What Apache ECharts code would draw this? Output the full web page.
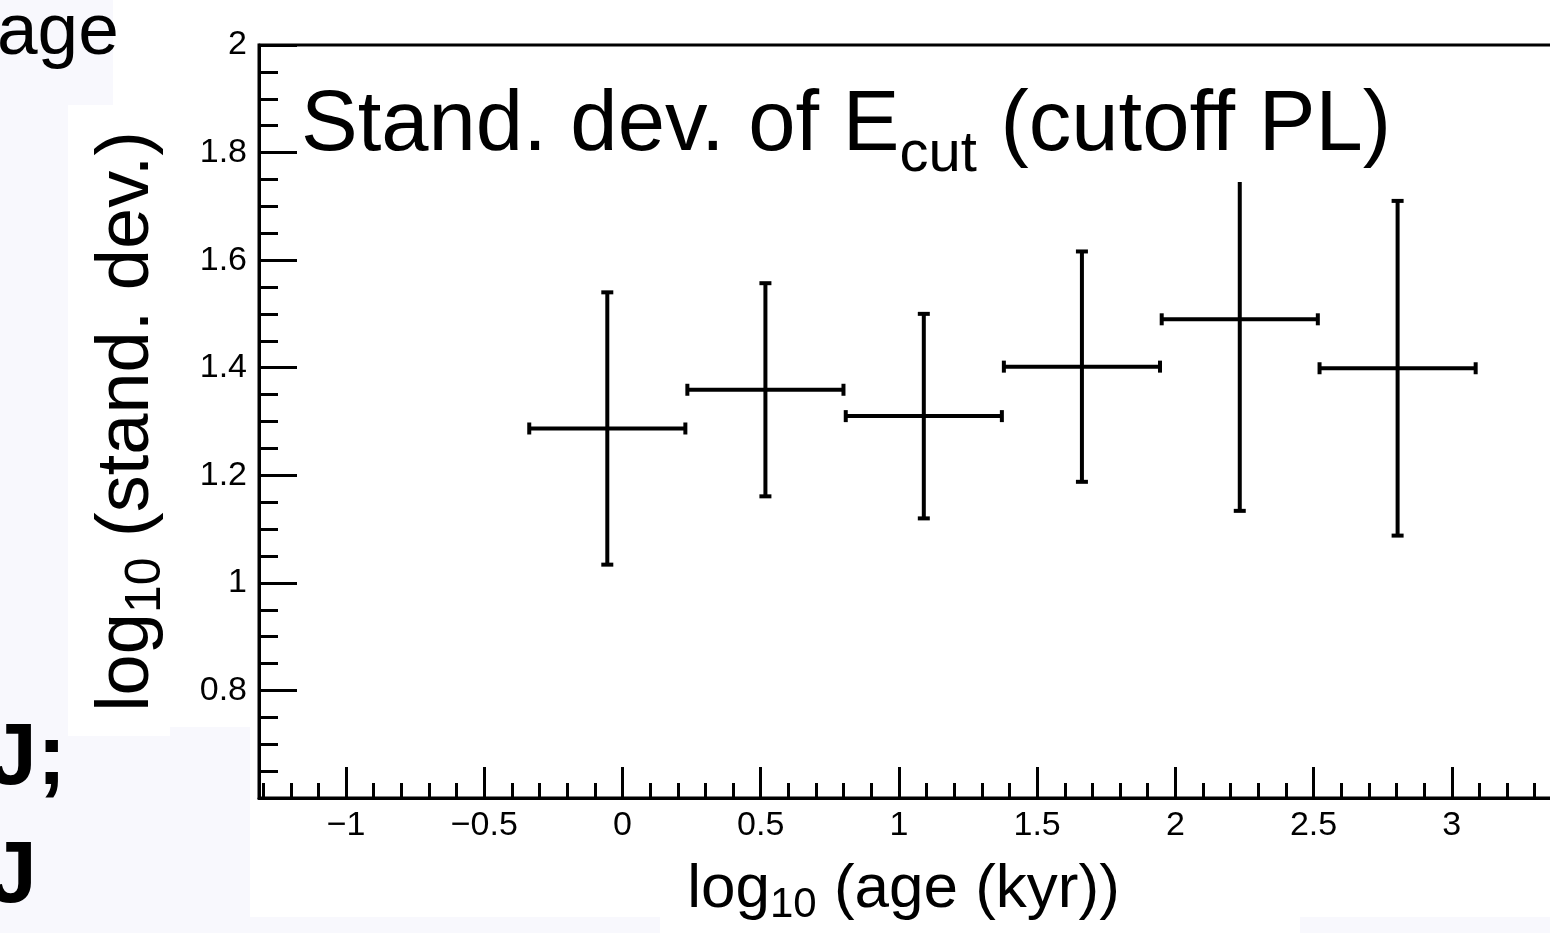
<!DOCTYPE html>
<html><head><meta charset="utf-8">
<script src="https://cdn.jsdelivr.net/npm/echarts@6/dist/echarts.min.js"></script>
<style>html,body{margin:0;padding:0;background:#fff}#c{width:1550px;height:933px}</style>
</head><body><div id="c"></div>
<script>
// ---- data ----
const binCenters    = [-0.055, 0.517, 1.090, 1.662, 2.233, 2.804];
const binHalfWidths = [0.286, 0.286, 0.286, 0.286, 0.286, 0.286];
const stdDevValues  = [1.287, 1.359, 1.310, 1.402, 1.490, 1.399];
const stdDevErrors  = [0.255, 0.200, 0.192, 0.216, 0.358, 0.313];
const xMajorTicks   = [-1, -0.5, 0, 0.5, 1, 1.5, 2, 2.5, 3, 3.5];
const xTickLabels   = [-1, -0.5, 0, 0.5, 1, 1.5, 2, 2.5, 3];
const xMinorTicks   = [-1.3,-1.2,-1.1,-0.9,-0.8,-0.7,-0.6,-0.4,-0.3,-0.2,-0.1,
                       0.1,0.2,0.3,0.4,0.6,0.7,0.8,0.9,1.1,1.2,1.3,1.4,1.6,1.7,1.8,1.9,
                       2.1,2.2,2.3,2.4,2.6,2.7,2.8,2.9,3.1,3.2,3.3,3.4];
const titleText  = 'Stand. dev. of E{sub|cut} (cutoff PL)';
const xTitleText = 'log{sub|10} (age (kyr))';
const yTitleText = 'log{sub|10} (stand. dev.)';

const FONT = "'Liberation Sans', Arial, Helvetica, sans-serif";
const seriesData = binCenters.map((x, i) => [x, stdDevValues[i], binHalfWidths[i], stdDevErrors[i]]);

const chart = echarts.init(document.getElementById('c'));
const LAV = '#f8f8fd';
chart.setOption({
  backgroundColor: '#fff',
  animation: false,
  grid: { left: 259, right: -40, top: 45, bottom: 135, show: true, borderColor: '#000', borderWidth: 3,
          outerBoundsMode: 'none', containLabel: false },
  title: {
    text: titleText, left: 301, top: 70, padding: 0,
    textStyle: { fontFamily: FONT, fontSize: 85, fontWeight: 'normal', color: '#000',
      rich: { sub: { fontFamily: FONT, fontSize: 58, color: '#000', padding: [56, 0, 0, 0] } } }
  },
  xAxis: [{
    type: 'value', min: -1.315, max: 3.5, position: 'bottom',
    name: xTitleText, nameLocation: 'middle', nameGap: 56,
    nameTextStyle: { fontFamily: FONT, fontSize: 62, color: '#000', padding: [0, 42, 0, 0],
      rich: { sub: { fontFamily: FONT, fontSize: 42, color: '#000', padding: [30, 0, 0, 0] } } },
    axisLine: { show: true, onZero: false, lineStyle: { color: '#000', width: 3 } },
    axisTick: { show: true, inside: true, length: 31, customValues: xMajorTicks, lineStyle: { color: '#000', width: 3 } },
    axisLabel: { show: true, customValues: xTickLabels, margin: 11, fontFamily: FONT, fontSize: 34, color: '#000',
      formatter: v => String(v).replace('-', '\u2212') },
    splitLine: { show: false }
  }, {
    type: 'value', min: -1.315, max: 3.5, position: 'bottom', gridIndex: 0,
    axisLine: { show: false, onZero: false },
    axisTick: { show: true, inside: true, length: 15, customValues: xMinorTicks, lineStyle: { color: '#000', width: 3 } },
    axisLabel: { show: false },
    splitLine: { show: false }
  }],
  yAxis: {
    type: 'value', min: 0.6, max: 2, interval: 0.2,
    name: yTitleText, nameLocation: 'middle', nameRotate: 90, nameGap: 88,
    nameTextStyle: { fontFamily: FONT, fontSize: 74, color: '#000',
      rich: { sub: { fontFamily: FONT, fontSize: 50, color: '#000', padding: [36, 0, 0, 0] } } },
    axisLine: { show: true, onZero: false, lineStyle: { color: '#000', width: 3 } },
    axisTick: { show: true, inside: true, length: 38, lineStyle: { color: '#000', width: 3 } },
    minorTick: { show: true, splitNumber: 4, length: 19, lineStyle: { color: '#000', width: 3 } },
    axisLabel: { show: true, margin: 12, fontFamily: FONT, fontSize: 34, color: '#000',
      formatter: v => (Math.abs(v - 0.6) < 1e-6 ? '' : String(+v.toFixed(2))) },
    splitLine: { show: false }, minorSplitLine: { show: false }
  },
  graphic: [
    { type: 'rect', z: -10, silent: true, shape: { x: 0, y: 0, width: 113, height: 105 }, style: { fill: LAV } },
    { type: 'rect', z: -10, silent: true, shape: { x: 0, y: 105, width: 68, height: 622 }, style: { fill: LAV } },
    { type: 'rect', z: -10, silent: true, shape: { x: 0, y: 727, width: 250, height: 206 }, style: { fill: LAV } },
    { type: 'rect', z: -10, silent: true, shape: { x: 250, y: 917, width: 410, height: 16 }, style: { fill: LAV } },
    { type: 'rect', z: -10, silent: true, shape: { x: 1300, y: 917, width: 250, height: 16 }, style: { fill: LAV } },
    { type: 'rect', z: -9, silent: true, shape: { x: 68, y: 150, width: 102, height: 586 }, style: { fill: '#fff' } },
    { type: 'text', z: -5, silent: true, x: -3, y: -3, style: { text: 'age', font: "normal 73px 'Liberation Sans', Arial, sans-serif", fill: '#000' } },
    { type: 'text', z: -5, silent: true, x: -12, y: 716, style: { text: 'J;', font: "bold 88px 'Liberation Sans', Arial, sans-serif", fill: '#000' } },
    { type: 'text', z: -5, silent: true, x: -12, y: 834, style: { text: 'J', font: "bold 88px 'Liberation Sans', Arial, sans-serif", fill: '#000' } },
    { type: 'rect', z: 5, silent: true, shape: { x: 300, y: 55, width: 1096, height: 127 }, style: { fill: '#fff' } }
  ],
  series: [{
    type: 'custom', xAxisIndex: 0, yAxisIndex: 0, clip: false,
    data: seriesData,
    encode: { x: 0, y: 1 },
    renderItem: function (params, api) {
      const x = api.value(0), y = api.value(1), hw = api.value(2), e = api.value(3);
      const l = api.coord([x - hw, y]), r = api.coord([x + hw, y]);
      const t = api.coord([x, y + e]), b = api.coord([x, y - e]);
      const st = { stroke: '#000', lineWidth: 4 };
      const cap = 6;
      return { type: 'group', children: [
        { type: 'line', shape: { x1: l[0], y1: l[1], x2: r[0], y2: r[1] }, style: st },
        { type: 'line', shape: { x1: t[0], y1: t[1], x2: b[0], y2: b[1] }, style: st },
        { type: 'line', shape: { x1: l[0] + 1, y1: l[1] - cap, x2: l[0] + 1, y2: l[1] + cap }, style: st },
        { type: 'line', shape: { x1: r[0] - 1, y1: r[1] - cap, x2: r[0] - 1, y2: r[1] + cap }, style: st },
        { type: 'line', shape: { x1: t[0] - cap, y1: t[1] + 1, x2: t[0] + cap, y2: t[1] + 1 }, style: st },
        { type: 'line', shape: { x1: b[0] - cap, y1: b[1] - 1, x2: b[0] + cap, y2: b[1] - 1 }, style: st }
      ] };
    }
  }]
});
</script></body></html>
